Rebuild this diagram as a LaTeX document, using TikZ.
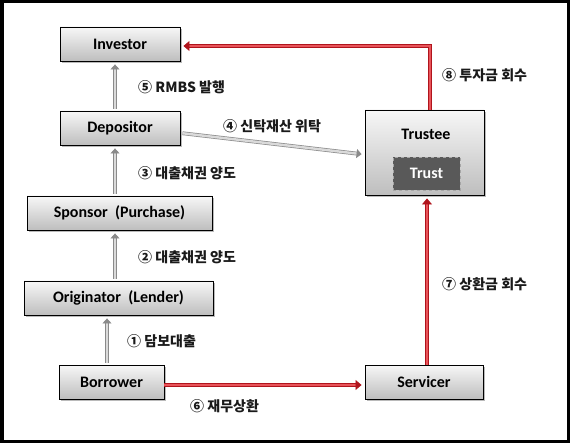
\documentclass[tikz,border=0pt]{standalone}
\usepackage{fontspec}
\setmainfont{Carlito}
\newfontfamily\kofont{Noto Sans CJK KR}
\usetikzlibrary{arrows.meta,shadows}

\begin{document}
\begin{tikzpicture}[x=1pt, y=-1pt,
    box/.style={draw=black, line width=0.9pt, top color=boxTop, bottom color=boxBottom,
        drop shadow={shadow xshift=2pt, shadow yshift=-2pt, fill=black!45, opacity=0.6},
        minimum height=34pt, inner sep=0pt, font=\bfseries\fontsize{16}{16}\selectfont},
    lbl/.style={anchor=west, inner sep=0pt, text=labelColour, font=\kofont\bfseries\fontsize{14}{15}\selectfont},
    grayarrow/.style={draw=arrowGrey, line width=0.7pt, double=arrowLight, double distance=2.4pt,
        -{Triangle[length=5pt, width=9pt]}, shorten <=2pt, shorten >=3pt},
    redarrow/.style={draw=darkRed, line width=0.8pt, double=fillRed, double distance=2.8pt,
        -{Triangle[length=6pt, width=10pt]}, shorten >=3pt}]

    \definecolor{boxTop}{HTML}{F7F7F7}
    \definecolor{boxBottom}{HTML}{BEBEBE}
    \definecolor{arrowGrey}{HTML}{8A8A8A}
    \definecolor{arrowLight}{HTML}{DADADA}
    \definecolor{darkRed}{HTML}{B0141C}
    \definecolor{fillRed}{HTML}{E8545A}
    \definecolor{labelColour}{HTML}{1A1A1A}
    \definecolor{trustFill}{HTML}{595959}

    % Frame
    \useasboundingbox (0,0) rectangle (570,443);
    \draw[line width=3.5pt] (1.75,1.75) rectangle (568.25,441.25);

    % Parties
    \node[box, minimum width=120pt] (investor) at (120,44) {Investor};
    \node[box, minimum width=120pt] (depositor) at (120,128) {Depositor};
    \node[box, minimum width=185pt] (sponsor) at (119.5,213) {Sponsor\ \ (Purchase)};
    \node[box, minimum width=189pt] (originator) at (118.5,298) {Originator\ \ (Lender)};
    \node[box, minimum width=105pt] (borrower) at (111.5,382) {Borrower};
    \node[box, minimum width=118pt] (servicer) at (424,382) {Servicer};
    \node[box, minimum width=119pt, minimum height=85pt] (trustee) at (424.5,152.5) {};
    \node[inner sep=0pt, font=\bfseries\fontsize{16}{16}\selectfont] (trusteeText) at (426,134) {Trustee};
    \node[draw=gray!70, dashed, line width=0.6pt, fill=trustFill, text=white, minimum width=67pt,
        minimum height=33pt, inner sep=0pt, font=\bfseries\fontsize{16}{16}\selectfont] (trust) at (426.5,173.5) {Trust};

    % Grey flows
    \draw[grayarrow] ([xshift=-4.5pt]borrower.north) -- ([xshift=-4.5pt]borrower.north |- originator.south);
    \draw[grayarrow] ([xshift=-3.5pt]originator.north) -- ([xshift=-3.5pt]originator.north |- sponsor.south);
    \draw[grayarrow] ([xshift=-4.5pt]sponsor.north) -- ([xshift=-4.5pt]sponsor.north |- depositor.south);
    \draw[grayarrow] ([xshift=-5pt]depositor.north) -- ([xshift=-5pt]depositor.north |- investor.south);
    \draw[grayarrow] ([yshift=-5pt]depositor.east) -- ([yshift=-2pt]trustee.west);

    % Red flows
    \draw[redarrow] ([yshift=-3pt]borrower.east) -- ([yshift=-3pt]servicer.west);
    \draw[redarrow] ([xshift=3pt]servicer.north) -- ([xshift=3pt]servicer.north |- trustee.south);
    \draw[redarrow] ([xshift=5.5pt]trustee.north) |- ([yshift=-2pt]investor.east);

    % Labels
    \node[lbl] (l1) at (127,341) {① 담보대출};
    \node[lbl] (l2) at (138,257) {② 대출채권 양도};
    \node[lbl] (l3) at (138,173) {③ 대출채권 양도};
    \node[lbl] (l4) at (223,126) {④ 신탁재산 위탁};
    \node[lbl] (l5) at (138,87) {⑤ RMBS 발행};
    \node[lbl] (l6) at (190,406) {⑥ 재무상환};
    \node[lbl] (l7) at (442,284) {⑦ 상환금 회수};
    \node[lbl] (l8) at (442,75) {⑧ 투자금 회수};

\end{tikzpicture}
\end{document}
